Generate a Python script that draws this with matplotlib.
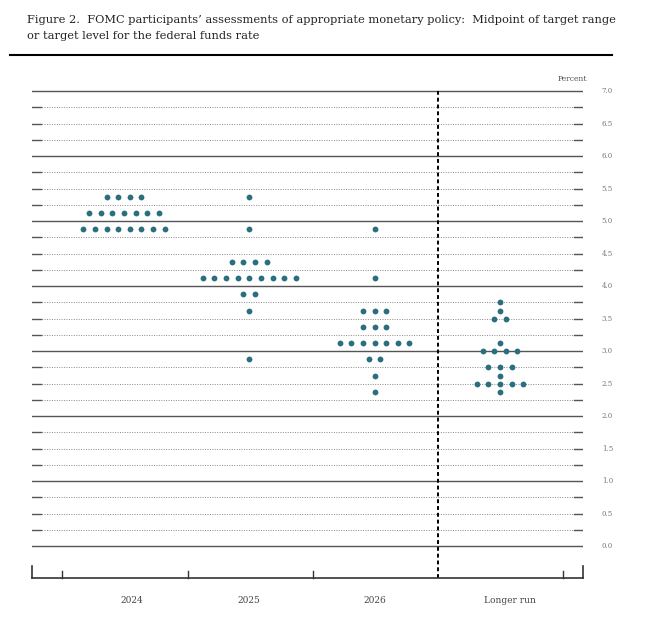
import matplotlib
matplotlib.use("Agg")
import matplotlib.pyplot as plt
import numpy as np

categories = ["2024", "2025", "2026", "Longer run"]
# (rate, count) per category
dots_2024 = [(5.375, 4), (5.125, 7), (4.875, 8)]
dots_2025 = [(5.375, 1), (4.875, 1), (4.375, 4), (4.125, 9), (3.875, 2), (3.625, 1), (2.875, 1)]
dots_2026 = [(4.875, 1), (4.125, 1), (3.625, 3), (3.375, 3), (3.125, 7), (2.875, 2), (2.625, 1), (2.375, 1)]
dots_lr = [(3.75, 1), (3.625, 1), (3.5, 2), (3.125, 1), (3.0, 4), (2.75, 3), (2.625, 1), (2.5, 5), (2.375, 1)]
all_dots = [dots_2024, dots_2025, dots_2026, dots_lr]
y_labels = ["0.0", "0.5", "1.0", "1.5", "2.0", "2.5", "3.0", "3.5", "4.0", "4.5", "5.0", "5.5", "6.0", "6.5", "7.0"]

W, H = 650, 630
fig = plt.figure(figsize=(6.5, 6.3), dpi=100)
xl, xr, yb, yt = 32, 583, 578, 88
ax = fig.add_axes([xl / W, 1 - yb / H, (xr - xl) / W, (yb - yt) / H])
xmin, xmax = -0.734, 3.663
ymin, ymax = -0.49, 7.05
ax.set_xlim(xmin, xmax)
ax.set_ylim(ymin, ymax)
ax.axis("off")

xpos = [0, 1, 2, 3]
step = 0.0926
tick_len = 0.07

for v in np.arange(0, 7.01, 0.25):
    if abs(v - round(v)) < 1e-6:
        ax.plot([xmin, xmax], [v, v], color="#555555", lw=1.0, zorder=1)
    else:
        ax.plot([xmin, xmax], [v, v], color="#888888", lw=0.7, ls=(0, (1, 1.5)), zorder=1)
        ax.plot([xmin, xmin + tick_len], [v, v], color="#555555", lw=1.0, zorder=1)
        ax.plot([xmax - tick_len, xmax], [v, v], color="#555555", lw=1.0, zorder=1)

for lab in y_labels:
    ax.text(xmax + 0.15, float(lab), lab, fontsize=5, color="#777777",
            va="center", ha="left", family="DejaVu Serif")
ax.text(xmax + 0.03, 7.12, "Percent", fontsize=5.5, color="#555555", ha="right",
        va="bottom", family="DejaVu Serif", clip_on=False)

# divider
ax.plot([2.506, 2.506], [ymin, ymax], color="black", lw=1.4, ls=(0, (2, 1.5)), zorder=2)

# bottom axis
ax.plot([xmin, xmax], [ymin, ymin], color="#333333", lw=1.2, clip_on=False)
for t in [-0.495, 0.51, 1.51, 3.5]:
    ax.plot([t, t], [ymin, ymin + 0.11], color="#333333", lw=1.0, clip_on=False)
for t in [xmin, xmax]:
    ax.plot([t, t], [ymin, ymin + 0.19], color="#333333", lw=1.2, clip_on=False)
label_x = [0.06, 1.0, 2.0, 3.08]
for x, c in zip(label_x, categories):
    ax.text(x, ymin - 0.34, c, fontsize=6.5, ha="center", va="center",
            color="#444444", family="DejaVu Serif", clip_on=False)

for x0, dots in zip(xpos, all_dots):
    for rate, n in dots:
        xs = x0 + (np.arange(n) - (n - 1) / 2) * step
        ax.plot(xs, [rate] * n, "o", color="#2b6f7e", ms=4.2, mec="none", zorder=3)

fig.text(27 / W, 1 - 20 / H, "Figure 2.  FOMC participants\u2019 assessments of appropriate monetary policy:  Midpoint of target range",
         fontsize=8.2, family="DejaVu Serif", va="center", ha="left", color="#222222")
fig.text(27 / W, 1 - 36 / H, "or target level for the federal funds rate",
         fontsize=8.2, family="DejaVu Serif", va="center", ha="left", color="#222222")
fig.add_artist(plt.Line2D([10 / W, 612 / W], [1 - 55 / H, 1 - 55 / H], color="black", lw=1.5))

fig.savefig("out.png", dpi=100)
